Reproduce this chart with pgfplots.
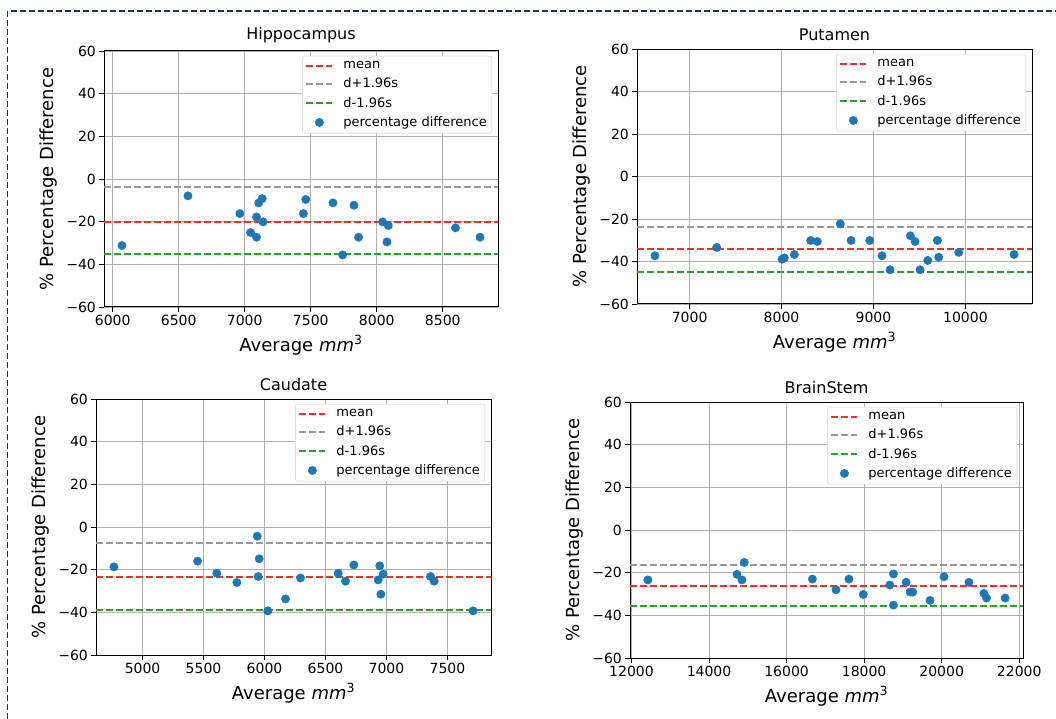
\documentclass[border=0pt]{standalone}
\usepackage{pgfplots}
\pgfplotsset{compat=1.18}
\usepackage{fontspec}
\setmainfont{DejaVu Sans}
\definecolor{mplblue}{HTML}{1F77B4}
\definecolor{mplred}{HTML}{FF2A2A}
\definecolor{mplgray}{HTML}{999999}
\definecolor{mplgreen}{HTML}{2CA02C}
\definecolor{gridc}{HTML}{B0B0B0}
\definecolor{framec}{HTML}{1E3250}
\newcommand{\ttl}[1]{\fontsize{16}{18}\selectfont #1}
\pgfplotsset{
  ba/.style={
    scale only axis,
    anchor=south west,
    ymin=-60, ymax=60,
    ytick={-60,-40,-20,0,20,40,60},
    yticklabels={−60,−40,−20,0,20,40,60},
    scaled x ticks=false,
    /pgf/number format/1000 sep={},
    /pgf/number format/assume math mode=true,
    tick label style={font=\fontsize{14}{16}\selectfont},
    tick align=outside, tick pos=left,
    major tick length=4.6pt,
    every tick/.style={black, line width=0.8pt},
    grid=major,
    major grid style={gridc, line width=0.8pt},
    axis line style={black, line width=1pt},
    title style={yshift=-1pt},
    label style={font=\fontsize{18}{20}\selectfont},
    xlabel={Average \textit{mm}\textsuperscript{3}},
    ylabel={\% Percentage Difference},
    xlabel style={yshift=-3pt},
    ylabel style={yshift=2pt},
    legend style={at={(1,1)}, anchor=north east, xshift=-6pt, yshift=-5pt,
      draw=black!20, rounded corners=2pt, fill=white,
      font=\fontsize{13}{15}\selectfont, row sep=4pt,
      inner xsep=3pt, inner ysep=3pt,
      /tikz/every odd column/.append style={column sep=8pt}},
    legend cell align=left,
  },
  hl/.style={line width=2pt, dash pattern=on 7pt off 3pt,
    legend image code/.code={\draw[##1] (0pt,0pt) -- (26pt,0pt);}},
  pts/.style={only marks, mark=*, mark size=4.2pt,
    mark options={fill=mplblue, draw=mplblue},
    legend image code/.code={\draw[mark repeat=2,mark phase=2,##1] plot coordinates {(0pt,0pt)(13pt,0pt)(26pt,0pt)};}},
}
\pgfplotstableread{
x y
6070 -31.2
6570 -7.9
6963 -16.2
7044 -25.1
7089 -17.8
7089 -27.3
7106 -11.2
7132 -9.2
7139 -20.1
7444 -16.2
7462 -9.6
7668 -11.2
7741 -35.6
7827 -12.3
7862 -27.3
8044 -20.1
8087 -21.8
8077 -29.5
8596 -22.9
8782 -27.3
}\hippo
\pgfplotstableread{
x y
6623 -37.3
7294 -33.4
8005 -38.9
8030 -38.3
8139 -36.7
8317 -30.1
8389 -30.6
8639 -22.3
8756 -30.1
8959 -30.1
9093 -37.3
9180 -43.9
9401 -27.9
9452 -30.6
9506 -43.9
9590 -39.5
9695 -30.1
9710 -38.0
9927 -35.7
10529 -36.7
}\putamen
\pgfplotstableread{
x y
4765 -18.7
5451 -16.0
5609 -21.7
5773 -26.0
5940 -4.3
5956 -14.9
5948 -23.2
6027 -39.3
6172 -33.7
6295 -23.9
6604 -21.7
6664 -25.4
6732 -17.8
6932 -24.8
6945 -18.2
6973 -22.1
6954 -31.5
7361 -23.2
7391 -25.4
7710 -39.3
}\caudate
\pgfplotstableread{
x y
12423 -23.4
14720 -20.8
14849 -23.4
14909 -15.2
16666 -23.0
17274 -28.0
17609 -23.0
17977 -30.2
18663 -25.8
18757 -20.6
18757 -35.2
19083 -24.5
19186 -29.1
19254 -29.1
19700 -33.0
20060 -21.9
20703 -24.5
21089 -29.7
21157 -31.9
21637 -31.9
}\brainstem
\begin{document}
\begin{tikzpicture}[x=1pt,y=1pt]
\useasboundingbox (0,0) rectangle (1056,718);
\draw[framec, line width=1.6pt, dash pattern=on 6pt off 3pt] (7.5,-10) -- (7.5,707) -- (1070,707);
% Hippocampus
\begin{axis}[ba, at={(104pt,411pt)}, width=394pt, height=256pt,
  xmin=5934, xmax=8918, xtick={6000,6500,7000,7500,8000,8500},
  title={\ttl{Hippocampus}}]
\addplot[hl, color=mplred] coordinates {(5934,-20.0) (8918,-20.0)};
\addlegendentry{mean}
\addplot[hl, color=mplgray] coordinates {(5934,-3.7) (8918,-3.7)};
\addlegendentry{d+1.96s}
\addplot[hl, color=mplgreen] coordinates {(5934,-35.3) (8918,-35.3)};
\addlegendentry{d-1.96s}
\addplot[pts] table[x=x,y=y] {\hippo};
\addlegendentry{percentage difference}
\end{axis}
% Putamen
\begin{axis}[ba, at={(637pt,414pt)}, width=395pt, height=255pt,
  xmin=6428, xmax=10724, xtick={7000,8000,9000,10000},
  title={\ttl{Putamen}}]
\addplot[hl, color=mplred] coordinates {(6428,-34.3) (10724,-34.3)};
\addlegendentry{mean}
\addplot[hl, color=mplgray] coordinates {(6428,-23.7) (10724,-23.7)};
\addlegendentry{d+1.96s}
\addplot[hl, color=mplgreen] coordinates {(6428,-44.8) (10724,-44.8)};
\addlegendentry{d-1.96s}
\addplot[pts] table[x=x,y=y] {\putamen};
\addlegendentry{percentage difference}
\end{axis}
% Caudate
\begin{axis}[ba, at={(96pt,63pt)}, width=395pt, height=256pt,
  xmin=4618, xmax=7857, xtick={5000,5500,6000,6500,7000,7500},
  title={\ttl{Caudate}}]
\addplot[hl, color=mplred] coordinates {(4618,-23.5) (7857,-23.5)};
\addlegendentry{mean}
\addplot[hl, color=mplgray] coordinates {(4618,-7.4) (7857,-7.4)};
\addlegendentry{d+1.96s}
\addplot[hl, color=mplgreen] coordinates {(4618,-39.0) (7857,-39.0)};
\addlegendentry{d-1.96s}
\addplot[pts] table[x=x,y=y] {\caudate};
\addlegendentry{percentage difference}
\end{axis}
% BrainStem
\begin{axis}[ba, at={(630pt,60pt)}, width=393pt, height=256pt,
  xmin=11962, xmax=22098, xtick={12000,14000,16000,18000,20000,22000},
  title={\ttl{BrainStem}}]
\addplot[hl, color=mplred] coordinates {(11962,-26.1) (22098,-26.1)};
\addlegendentry{mean}
\addplot[hl, color=mplgray] coordinates {(11962,-16.6) (22098,-16.6)};
\addlegendentry{d+1.96s}
\addplot[hl, color=mplgreen] coordinates {(11962,-35.5) (22098,-35.5)};
\addlegendentry{d-1.96s}
\addplot[pts] table[x=x,y=y] {\brainstem};
\addlegendentry{percentage difference}
\end{axis}
\end{tikzpicture}
\end{document}
